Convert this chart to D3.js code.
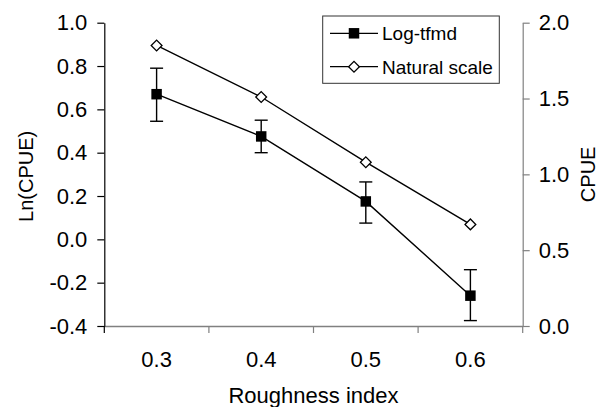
<html lang="en">
<head>
<meta charset="utf-8">
<title>CPUE vs roughness index</title>
<style>
  body { margin: 0; background: white; }
  svg { display: block; font-family: Arial, "Liberation Sans", sans-serif; }
  .title { font-size: 22px; fill: black; }
  .vtitle { font-size: 20px; fill: black; }
  .legend text { font-size: 19px; fill: black; }
</style>
</head>
<body>
<script src="https://cdnjs.cloudflare.com/ajax/libs/d3/7.8.5/d3.min.js"></script>
<script>
// data
var categories = ["0.3", "0.4", "0.5", "0.6"];
var logMean  = [0.67, 0.475, 0.175, -0.26];
var logUpper = [0.79, 0.55, 0.265, -0.14];
var logLower = [0.545, 0.40, 0.075, -0.375];
var naturalCpue = [1.85, 1.51, 1.08, 0.67];
var leftTicks = [-0.4, -0.2, 0.0, 0.2, 0.4, 0.6, 0.8, 1.0];
var rightTicks = [0.0, 0.5, 1.0, 1.5, 2.0];
var seriesNames = ["Log-tfmd", "Natural scale"];

var fullwidth = 600, fullheight = 407;
var plotLeft = 104.3, plotRight = 522.7, plotTop = 22.7, plotBottom = 326;

var svg = d3.select("body").append("svg")
  .attr("width", fullwidth)
  .attr("height", fullheight);

var xScale = d3.scaleBand().domain(categories).range([plotLeft, plotRight]).padding(0);
var yLeft = d3.scaleLinear().domain([-0.4, 1.0]).range([plotBottom, plotTop]);
var yRight = d3.scaleLinear().domain([0, 2]).range([plotBottom, plotTop]);
var fmt = function(d) { return d.toFixed(1); };
var cx = function(i) { return xScale(categories[i]) + xScale.bandwidth() / 2; };

// x axis: labels at band centres, tick marks at band edges
var xAxisG = svg.append("g")
  .attr("transform", "translate(0," + plotBottom + ")")
  .call(d3.axisBottom(xScale).tickSize(0).tickPadding(25));
xAxisG.select(".domain").attr("stroke", "#808080").attr("stroke-width", 1.3);
var edges = categories.map(function(c) { return xScale(c); }).concat([plotRight]);
xAxisG.selectAll("line.edge").data(edges).enter().append("line")
  .attr("class", "edge")
  .attr("x1", function(d) { return d; }).attr("x2", function(d) { return d; })
  .attr("y1", 0).attr("y2", 7)
  .attr("stroke", function(d, i) { return i === 0 ? "black" : "#808080"; })
  .attr("stroke-width", 1.2);

// left axis
var yLeftG = svg.append("g")
  .attr("transform", "translate(" + plotLeft + ",0)")
  .call(d3.axisLeft(yLeft).tickValues(leftTicks).tickFormat(fmt)
    .tickSize(7).tickSizeOuter(0).tickPadding(10));
yLeftG.selectAll("path, line").attr("stroke", "black").attr("stroke-width", 1.2);

// right axis
var yRightG = svg.append("g")
  .attr("transform", "translate(" + plotRight + ",0)")
  .call(d3.axisRight(yRight).tickValues(rightTicks).tickFormat(fmt)
    .tickSize(7).tickSizeOuter(0).tickPadding(9));
yRightG.selectAll("path, line").attr("stroke", "#808080").attr("stroke-width", 1.2);

svg.selectAll("g.tick text")
  .attr("font-family", "Arial, 'Liberation Sans', sans-serif")
  .attr("font-size", "22px")
  .attr("fill", "black");
[xAxisG, yLeftG, yRightG].forEach(function(g) { g.attr("font-size", null).attr("font-family", null); });

// axis titles
svg.append("text").attr("class", "title")
  .attr("x", (plotLeft + plotRight) / 2).attr("y", 403)
  .attr("text-anchor", "middle")
  .text("Roughness index");

svg.append("text").attr("class", "vtitle")
  .attr("transform", "translate(33," + ((plotTop + plotBottom) / 2 + 2) + ") rotate(-90)")
  .attr("text-anchor", "middle")
  .text("Ln(CPUE)");

svg.append("text").attr("class", "vtitle")
  .attr("transform", "translate(595," + ((plotTop + plotBottom) / 2) + ") rotate(-90)")
  .attr("text-anchor", "middle")
  .text("CPUE");

// lines
var logLine = d3.line().x(function(d, i) { return cx(i); }).y(function(d) { return yLeft(d); });
var natLine = d3.line().x(function(d, i) { return cx(i); }).y(function(d) { return yRight(d); });

svg.append("path").datum(naturalCpue)
  .attr("d", natLine).attr("fill", "none").attr("stroke", "black").attr("stroke-width", 1.4);
svg.append("path").datum(logMean)
  .attr("d", logLine).attr("fill", "none").attr("stroke", "black").attr("stroke-width", 1.4);

// error bars
var bars = svg.selectAll("g.err").data(logMean).enter().append("g").attr("class", "err")
  .attr("stroke", "black").attr("stroke-width", 1.4);
bars.append("line")
  .attr("x1", function(d, i) { return cx(i); }).attr("x2", function(d, i) { return cx(i); })
  .attr("y1", function(d, i) { return yLeft(logLower[i]); })
  .attr("y2", function(d, i) { return yLeft(logUpper[i]); });
bars.append("line")
  .attr("x1", function(d, i) { return cx(i) - 6.5; }).attr("x2", function(d, i) { return cx(i) + 6.5; })
  .attr("y1", function(d, i) { return yLeft(logUpper[i]); })
  .attr("y2", function(d, i) { return yLeft(logUpper[i]); });
bars.append("line")
  .attr("x1", function(d, i) { return cx(i) - 6.5; }).attr("x2", function(d, i) { return cx(i) + 6.5; })
  .attr("y1", function(d, i) { return yLeft(logLower[i]); })
  .attr("y2", function(d, i) { return yLeft(logLower[i]); });

// markers
var square = d3.symbol().type(d3.symbolSquare).size(110);
var diamond = d3.symbol().type(d3.symbolSquare).size(58);

svg.selectAll("path.sq").data(logMean).enter().append("path")
  .attr("class", "sq")
  .attr("d", square)
  .attr("transform", function(d, i) { return "translate(" + cx(i) + "," + yLeft(d) + ")"; })
  .attr("fill", "black");

svg.selectAll("path.dia").data(naturalCpue).enter().append("path")
  .attr("class", "dia")
  .attr("d", diamond)
  .attr("transform", function(d, i) { return "translate(" + cx(i) + "," + yRight(d) + ") rotate(45)"; })
  .attr("fill", "white").attr("stroke", "black").attr("stroke-width", 1.3);

// legend
var legend = svg.append("g").attr("class", "legend");
legend.append("rect")
  .attr("x", 322.7).attr("y", 16).attr("width", 176.6).attr("height", 67.3)
  .attr("fill", "white").attr("stroke", "#333").attr("stroke-width", 1);

var rows = legend.selectAll("g.row").data(seriesNames).enter().append("g")
  .attr("class", "row")
  .attr("transform", function(d, i) { return "translate(0," + (33.3 + i * 33.4) + ")"; });
rows.append("line")
  .attr("x1", 330).attr("x2", 378).attr("y1", 0).attr("y2", 0)
  .attr("stroke", "black").attr("stroke-width", 1.3);
rows.append("path")
  .attr("d", function(d, i) { return i === 0 ? square() : diamond(); })
  .attr("transform", function(d, i) { return "translate(354,0)" + (i === 0 ? "" : " rotate(45)"); })
  .attr("fill", function(d, i) { return i === 0 ? "black" : "white"; })
  .attr("stroke", function(d, i) { return i === 0 ? "none" : "black"; })
  .attr("stroke-width", 1.3);
rows.append("text")
  .attr("x", 382).attr("y", 6.8)
  .text(function(d) { return d; });
</script>
</body>
</html>
